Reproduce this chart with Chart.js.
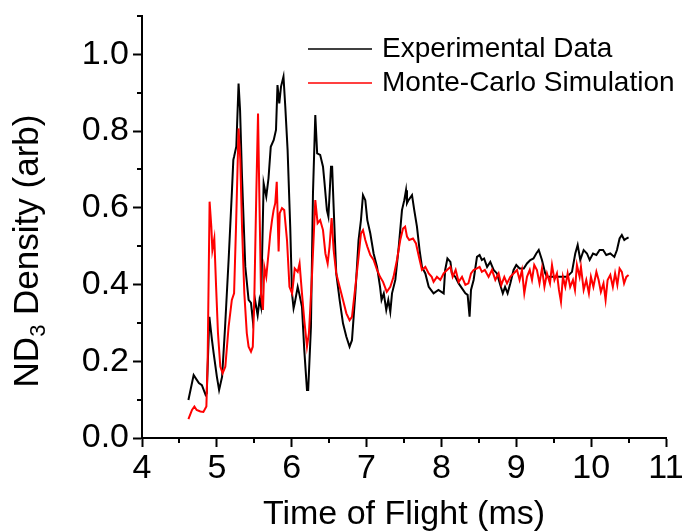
<!DOCTYPE html>
<html><head><meta charset="utf-8">
<script src="https://cdn.jsdelivr.net/npm/chart.js@4.4.1/dist/chart.umd.min.js"></script>
<style>html,body{margin:0;padding:0;background:#fff}#wrap{width:683px;height:532px;position:relative}</style>
</head><body><div id="wrap"><canvas id="c" width="683" height="532"></canvas></div>
<script>
// ---- data ----
const seriesLabels = ['Experimental Data', 'Monte-Carlo Simulation'];
const xTitle = 'Time of Flight (ms)';
const yTitleMain = 'ND';
const yTitleSub = '3';
const yTitleRest = ' Density (arb)';
const xMajorTicks = [4, 5, 6, 7, 8, 9, 10, 11];
const xMinorTicks = [4.5, 5.5, 6.5, 7.5, 8.5, 9.5, 10.5];
const yMajorTicks = [0.0, 0.2, 0.4, 0.6, 0.8, 1.0];
const yMinorTicks = [0.1, 0.3, 0.5, 0.7, 0.9, 1.1];

const expTime = [4.62,4.69,4.76,4.80,4.85,4.865,4.90,4.935,4.957,5.00,5.03,5.07,5.11,5.157,5.20,5.22,5.23,5.26,5.29,5.31,5.336,5.38,5.424,5.456,5.48,5.51,5.545,5.57,5.59,5.625,5.66,5.69,5.72,5.76,5.79,5.81,5.834,5.857,5.89,5.914,5.945,5.98,6.004,6.025,6.04,6.08,6.10,6.137,6.168,6.204,6.22,6.257,6.284,6.315,6.34,6.38,6.418,6.435,6.47,6.49,6.525,6.54,6.56,6.595,6.64,6.685,6.73,6.773,6.805,6.85,6.893,6.925,6.952,6.983,7.01,7.05,7.094,7.14,7.18,7.20,7.23,7.263,7.29,7.317,7.34,7.384,7.43,7.473,7.504,7.527,7.54,7.56,7.607,7.637,7.673,7.708,7.74,7.785,7.83,7.86,7.895,7.96,8.03,8.05,8.08,8.12,8.14,8.185,8.23,8.275,8.32,8.35,8.376,8.395,8.43,8.475,8.51,8.54,8.57,8.61,8.653,8.697,8.742,8.786,8.82,8.85,8.884,8.92,8.964,9.0,9.044,9.10,9.143,9.187,9.23,9.267,9.30,9.343,9.387,9.41,9.50,9.588,9.677,9.744,9.788,9.82,9.855,9.90,9.944,9.98,10.025,10.07,10.113,10.16,10.202,10.256,10.31,10.345,10.38,10.41,10.443,10.47,10.50];
const expDensity = [0.099,0.164,0.143,0.138,0.112,0.116,0.316,0.255,0.221,0.16,0.125,0.16,0.29,0.464,0.638,0.725,0.733,0.76,0.924,0.855,0.681,0.446,0.36,0.352,0.307,0.36,0.32,0.36,0.342,0.664,0.629,0.677,0.759,0.777,0.803,0.92,0.872,0.916,0.942,0.864,0.751,0.551,0.377,0.338,0.351,0.394,0.377,0.342,0.229,0.125,0.125,0.29,0.638,0.842,0.742,0.738,0.707,0.672,0.594,0.577,0.707,0.707,0.603,0.429,0.36,0.299,0.264,0.238,0.255,0.377,0.516,0.568,0.633,0.62,0.568,0.533,0.481,0.446,0.394,0.36,0.377,0.334,0.36,0.329,0.377,0.412,0.499,0.594,0.62,0.646,0.612,0.62,0.633,0.594,0.551,0.49,0.446,0.429,0.394,0.386,0.377,0.386,0.377,0.438,0.468,0.459,0.429,0.42,0.403,0.39,0.377,0.373,0.316,0.386,0.412,0.472,0.477,0.464,0.468,0.446,0.459,0.438,0.429,0.399,0.377,0.394,0.377,0.403,0.438,0.451,0.442,0.442,0.455,0.464,0.468,0.481,0.49,0.464,0.429,0.42,0.42,0.42,0.42,0.433,0.481,0.503,0.464,0.49,0.481,0.464,0.481,0.477,0.49,0.49,0.477,0.481,0.472,0.49,0.52,0.529,0.516,0.52,0.523];

const simTime = [4.62,4.668,4.70,4.73,4.78,4.82,4.86,4.877,4.903,4.926,4.94,4.966,4.99,5.015,5.046,5.077,5.113,5.157,5.20,5.23,5.256,5.29,5.313,5.336,5.367,5.40,5.424,5.456,5.48,5.50,5.527,5.55,5.567,5.59,5.616,5.634,5.66,5.69,5.714,5.737,5.758,5.78,5.80,5.825,5.84,5.87,5.90,5.937,5.97,6.005,6.025,6.04,6.08,6.105,6.137,6.168,6.204,6.23,6.27,6.315,6.346,6.38,6.418,6.45,6.48,6.505,6.533,6.56,6.595,6.64,6.685,6.73,6.773,6.805,6.85,6.893,6.925,6.952,6.983,7.01,7.05,7.094,7.14,7.18,7.22,7.27,7.317,7.36,7.406,7.45,7.487,7.515,7.54,7.57,7.62,7.66,7.70,7.74,7.785,7.83,7.87,7.895,7.94,7.985,8.03,8.075,8.12,8.15,8.19,8.23,8.275,8.32,8.36,8.395,8.43,8.475,8.51,8.54,8.58,8.63,8.675,8.72,8.764,8.80,8.84,8.876,8.92,8.964,9.01,9.044,9.076,9.107,9.143,9.18,9.21,9.24,9.276,9.31,9.343,9.376,9.41,9.45,9.477,9.51,9.543,9.57,9.597,9.623,9.655,9.686,9.72,9.757,9.784,9.81,9.846,9.864,9.90,9.935,9.97,9.997,10.03,10.07,10.10,10.13,10.165,10.193,10.22,10.256,10.29,10.32,10.35,10.38,10.41,10.44,10.47,10.50];
const simDensity = [0.049,0.073,0.082,0.073,0.069,0.068,0.082,0.203,0.616,0.551,0.49,0.52,0.394,0.273,0.186,0.169,0.186,0.29,0.36,0.377,0.551,0.807,0.725,0.551,0.377,0.273,0.238,0.225,0.238,0.36,0.638,0.846,0.638,0.377,0.334,0.446,0.42,0.481,0.533,0.568,0.594,0.612,0.668,0.486,0.586,0.599,0.594,0.516,0.394,0.377,0.412,0.442,0.433,0.455,0.377,0.307,0.238,0.273,0.42,0.62,0.56,0.568,0.542,0.481,0.455,0.499,0.573,0.49,0.429,0.394,0.36,0.325,0.307,0.316,0.394,0.472,0.533,0.542,0.516,0.499,0.477,0.464,0.438,0.42,0.407,0.381,0.394,0.42,0.464,0.516,0.546,0.551,0.525,0.516,0.52,0.507,0.472,0.438,0.446,0.429,0.42,0.407,0.42,0.412,0.429,0.438,0.446,0.42,0.438,0.407,0.42,0.399,0.403,0.429,0.438,0.442,0.446,0.433,0.438,0.42,0.438,0.412,0.429,0.399,0.42,0.403,0.42,0.429,0.438,0.412,0.438,0.377,0.42,0.438,0.412,0.451,0.438,0.403,0.442,0.394,0.429,0.403,0.451,0.412,0.429,0.386,0.355,0.42,0.394,0.429,0.394,0.412,0.386,0.451,0.42,0.446,0.386,0.412,0.377,0.42,0.394,0.433,0.412,0.381,0.403,0.36,0.412,0.425,0.394,0.429,0.399,0.442,0.433,0.403,0.42,0.425];

const seriesColors = ['#000000', '#ff0000'];

// ---- chart ----
const FONT = '"Liberation Sans", Arial, sans-serif';
const toPts = (xs, ys) => xs.map((x, i) => ({x: x, y: ys[i]}));

const extras = {
  id: 'extras',
  afterDraw(chart) {
    const ctx = chart.ctx;
    const xs = chart.scales.x, ys = chart.scales.y;
    const ca = chart.chartArea;
    ctx.save();
    ctx.strokeStyle = '#000';
    ctx.lineWidth = 2;
    // minor ticks
    xMinorTicks.forEach(v => {
      const px = Math.round(xs.getPixelForValue(v));
      ctx.beginPath(); ctx.moveTo(px, ca.bottom); ctx.lineTo(px, ca.bottom + 5); ctx.stroke();
    });
    yMinorTicks.forEach(v => {
      const py = Math.round(ys.getPixelForValue(v));
      ctx.beginPath(); ctx.moveTo(ca.left, py); ctx.lineTo(ca.left - 5, py); ctx.stroke();
    });
    // y title with subscript
    const big = '35px ' + FONT, small = '22px ' + FONT;
    ctx.font = big; const w1 = ctx.measureText(yTitleMain).width; const w3 = ctx.measureText(yTitleRest).width;
    ctx.font = small; const w2 = ctx.measureText(yTitleSub).width;
    const total = w1 + w2 + w3;
    ctx.translate(26, 251);
    ctx.rotate(-Math.PI / 2);
    ctx.fillStyle = '#000';
    ctx.textBaseline = 'alphabetic';
    ctx.textAlign = 'left';
    let sx = -total / 2;
    ctx.font = big; ctx.fillText(yTitleMain, sx, 12); sx += w1;
    ctx.font = small; ctx.fillText(yTitleSub, sx, 19); sx += w2;
    ctx.font = big; ctx.fillText(yTitleRest, sx, 12);
    ctx.restore();
    // legend
    ctx.save();
    ctx.font = '28px ' + FONT;
    ctx.textBaseline = 'alphabetic';
    ctx.fillStyle = '#000';
    const rows = [49, 83];
    seriesLabels.forEach((lab, i) => {
      ctx.strokeStyle = seriesColors[i];
      ctx.lineWidth = 1.5;
      ctx.beginPath(); ctx.moveTo(308, rows[i]); ctx.lineTo(372, rows[i]); ctx.stroke();
      ctx.fillText(lab, 382, rows[i] + 8);
    });
    ctx.restore();
  }
};

new Chart(document.getElementById('c'), {
  type: 'line',
  data: {
    datasets: [
      {label: seriesLabels[0], data: toPts(expTime, expDensity), borderColor: seriesColors[0], borderWidth: 2, pointRadius: 0, tension: 0, fill: false, order: 2},
      {label: seriesLabels[1], data: toPts(simTime, simDensity), borderColor: seriesColors[1], borderWidth: 2, pointRadius: 0, tension: 0, fill: false, order: 1}
    ]
  },
  options: {
    responsive: false,
    animation: false,
    devicePixelRatio: 1,
    layout: {padding: {top: 16, right: 17, left: 0, bottom: 0}},
    plugins: {legend: {display: false}, tooltip: {enabled: false}},
    scales: {
      x: {
        type: 'linear', min: 4, max: 11,
        afterFit: s => { s.height = 94; s.paddingLeft = 0; s.paddingRight = 0; },
        afterBuildTicks: s => { s.ticks = xMajorTicks.map(v => ({value: v})); },
        ticks: {color: '#000', font: {size: 34, family: FONT}, padding: 1, maxRotation: 0, autoSkip: false, callback: v => String(v)},
        grid: {drawOnChartArea: false, tickLength: 9, tickWidth: 2, tickColor: '#000'},
        border: {color: '#000', width: 2},
        title: {display: true, text: xTitle, color: '#000', font: {size: 34, family: FONT, lineHeight: 1.0}, padding: {top: 0, bottom: 0}}
      },
      y: {
        type: 'linear', min: 0, max: 1.1,
        afterFit: s => { s.width = 142; s.paddingTop = 0; s.paddingBottom = 0; },
        afterBuildTicks: s => { s.ticks = yMajorTicks.map(v => ({value: v})); },
        ticks: {color: '#000', font: {size: 34, family: FONT}, padding: 4, autoSkip: false, callback: v => v.toFixed(1)},
        grid: {drawOnChartArea: false, tickLength: 9, tickWidth: 2, tickColor: '#000'},
        border: {color: '#000', width: 2}
      }
    }
  },
  plugins: [extras]
});
</script>
</body></html>
